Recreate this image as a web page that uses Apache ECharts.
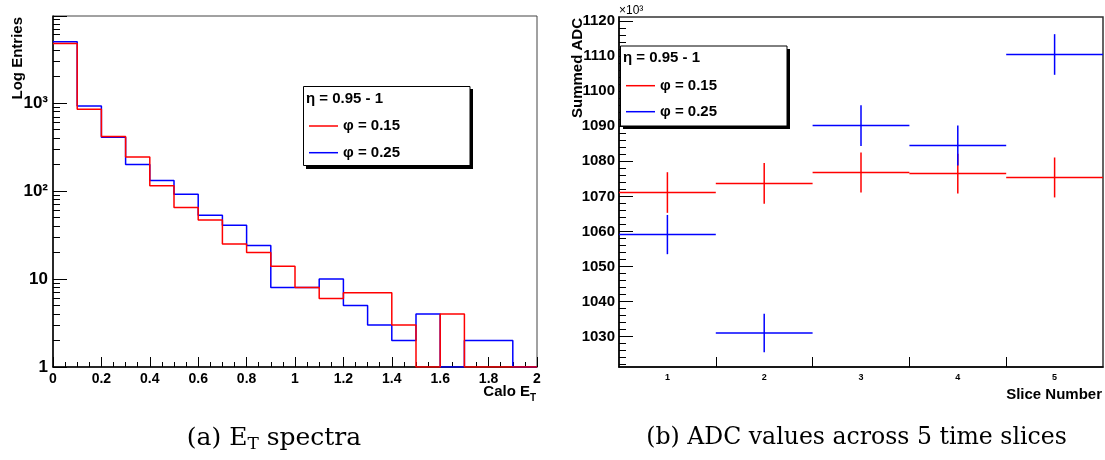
<!DOCTYPE html>
<html><head><meta charset="utf-8">
<script src="https://cdn.jsdelivr.net/npm/echarts@6/dist/echarts.min.js"></script>
<style>html,body{margin:0;padding:0;background:#fff}#c{width:1105px;height:460px}</style>
</head><body><div id="c"></div>
<script>
// ---- data: (a) ET spectra histograms ----
const binEdges = [0,0.1,0.2,0.3,0.4,0.5,0.6,0.7,0.8,0.9,1.0,1.1,1.2,1.3,1.4,1.5,1.6,1.7,1.8,1.9,2.0];
const histPhi015 = [4760, 855, 418, 245, 115, 65, 47, 25, 20, 14, 8, 6, 7, 7, 3, 0, 4, 0, 0, 0];
const histPhi025 = [4980, 930, 411, 201, 132, 92, 53, 41, 24, 8, 8, 10, 5, 3, 2, 4, 0, 2, 2, 0];
const logTickValues = [1, 10, 100, 1000];
const logTickLabels = ['1', '10', '10²', '10³'];

// ---- data: (b) ADC values per slice (x10^3) ----
const slices = [1, 2, 3, 4, 5];
const sliceHalfWidth = 0.5;
const adcPhi015 = [1071.1, 1073.7, 1076.8, 1076.5, 1075.4];
const errPhi015 = [5.8, 5.8, 5.7, 5.7, 5.7];
const adcPhi025 = [1059.1, 1031.0, 1090.2, 1084.5, 1110.5];
const errPhi025 = [5.6, 5.5, 5.8, 5.7, 5.8];
const adcTickValues = [1030, 1040, 1050, 1060, 1070, 1080, 1090, 1100, 1110, 1120];
const sliceTickValues = [1.5, 2.5, 3.5, 4.5];

const seriesNames = ['φ = 0.15', 'φ = 0.25'];
const RED = '#ff0000', BLUE = '#0000ff';
const FONT = 'Liberation Sans, Arial, Helvetica, sans-serif';

const LOG_MIN = 1, LOG_MAX = 9800;
function histData(vals) {
  const d = vals.map((v, i) => [binEdges[i], v > 0 ? v : LOG_MIN]);
  d.push([binEdges[binEdges.length - 1], LOG_MIN]);
  return d;
}
const minorLog = [];
for (let dec = 1; dec <= 1000; dec *= 10) for (let k = 2; k <= 9; k++) minorLog.push(dec * k);
const minorAdc = [];
for (let v = 1022; v <= 1120; v += 2) if (v % 10 !== 0) minorAdc.push(v);

function crossRender(params, api) {
  const x = api.value(0), y = api.value(1), e = api.value(2);
  const c = api.visual('color');
  const l = api.coord([x - sliceHalfWidth, y]), r = api.coord([x + sliceHalfWidth, y]);
  const t = api.coord([x, y + e]), b = api.coord([x, y - e]);
  const st = { stroke: c, lineWidth: 1.5 };
  return { type: 'group', children: [
    { type: 'line', shape: { x1: l[0], y1: l[1], x2: r[0], y2: r[1] }, style: st },
    { type: 'line', shape: { x1: t[0], y1: t[1], x2: b[0], y2: b[1] }, style: st }
  ]};
}

const axisLineS = { show: true, lineStyle: { color: '#000', width: 1.5 } };
const labelS = { color: '#000', fontFamily: FONT, fontWeight: 'bold', fontSize: 14 };

const chart = echarts.init(document.getElementById('c'), null, { renderer: 'canvas' });
const legendText = { fontSize: 15, fontWeight: 'bold', fontFamily: FONT, color: '#000', lineHeight: 16 };

chart.setOption({
  animation: false,
  backgroundColor: '#fff',
  grid: [
    { left: 53, top: 16, width: 484, height: 351, show: true, borderColor: '#444', borderWidth: 1, backgroundColor: 'transparent' },
    { left: 619, top: 17, width: 484, height: 350, show: true, borderColor: '#333', borderWidth: 1.5, backgroundColor: 'transparent' }
  ],
  xAxis: [
    { type: 'value', gridIndex: 0, min: 0, max: 2, interval: 0.2,
      axisLine: axisLineS, splitLine: { show: false },
      axisTick: { inside: true, length: 10, lineStyle: { color: '#000' } },
      minorTick: { show: true, splitNumber: 4, length: 5, lineStyle: { color: '#000' } },
      axisLabel: Object.assign({ margin: 5 }, labelS) },
    { type: 'value', gridIndex: 1, min: 0.5, max: 5.5,
      axisLine: axisLineS, splitLine: { show: false },
      axisTick: { inside: true, length: 10, customValues: sliceTickValues, lineStyle: { color: '#000' } },
      axisLabel: Object.assign({}, labelS, { fontSize: 9, margin: 6, customValues: slices }) }
  ],
  yAxis: [
    { type: 'log', logBase: 10, gridIndex: 0, min: LOG_MIN, max: LOG_MAX, position: 'left',
      axisLine: axisLineS, splitLine: { show: false },
      axisTick: { inside: true, length: 14, lineStyle: { color: '#000' } },
      axisLabel: Object.assign({}, labelS, { margin: 5, fontSize: 17,
        formatter: v => { const i = logTickValues.indexOf(Math.round(v)); return i >= 0 ? logTickLabels[i] : ''; } }) },
    { type: 'log', logBase: 10, gridIndex: 0, min: LOG_MIN, max: LOG_MAX, position: 'left',
      axisLine: { show: false }, splitLine: { show: false }, axisLabel: { show: false },
      axisTick: { inside: true, length: 7, customValues: minorLog, lineStyle: { color: '#000' } } },
    { type: 'value', gridIndex: 1, min: 1021.3, max: 1121.2, position: 'left',
      axisLine: axisLineS, splitLine: { show: false },
      axisTick: { inside: true, length: 14, customValues: adcTickValues, lineStyle: { color: '#000' } },
      axisLabel: Object.assign({}, labelS, { margin: 4, fontSize: 15, customValues: adcTickValues, formatter: v => String(v) }) },
    { type: 'value', gridIndex: 1, min: 1021.3, max: 1121.2, position: 'left',
      axisLine: { show: false }, splitLine: { show: false }, axisLabel: { show: false },
      axisTick: { inside: true, length: 7, customValues: minorAdc, lineStyle: { color: '#000' } } }
  ],
  legend: [
    { data: seriesNames, orient: 'vertical', left: 309, top: 118, padding: 0, itemGap: 10.7,
      itemWidth: 29, itemHeight: 1.5, icon: 'rect', textStyle: legendText, z: 20, selectedMode: false },
    { data: seriesNames, orient: 'vertical', left: 626, top: 77.7, padding: 0, itemGap: 10,
      itemWidth: 29, itemHeight: 1.5, icon: 'rect', textStyle: legendText, z: 20, selectedMode: false }
  ],
  series: [
    { name: seriesNames[1], type: 'line', xAxisIndex: 0, yAxisIndex: 0, step: 'end', symbol: 'none',
      data: histData(histPhi025), color: BLUE, lineStyle: { color: BLUE, width: 1.5 } },
    { name: seriesNames[0], type: 'line', xAxisIndex: 0, yAxisIndex: 0, step: 'end', symbol: 'none',
      data: histData(histPhi015), color: RED, lineStyle: { color: RED, width: 1.5 } },
    { name: seriesNames[0], type: 'custom', xAxisIndex: 1, yAxisIndex: 2, renderItem: crossRender,
      color: RED, itemStyle: { color: RED },
      data: slices.map((s, i) => [s, adcPhi015[i], errPhi015[i]]) },
    { name: seriesNames[1], type: 'custom', xAxisIndex: 1, yAxisIndex: 2, renderItem: crossRender,
      color: BLUE, itemStyle: { color: BLUE },
      data: slices.map((s, i) => [s, adcPhi025[i], errPhi025[i]]) }
  ],
  graphic: [
    // legend box (a)
    { type: 'rect', shape: { x: 306, y: 89, width: 167, height: 80 }, style: { fill: '#000' }, z: 15 },
    { type: 'rect', shape: { x: 303.5, y: 86.5, width: 166.5, height: 79 }, style: { fill: '#fff', stroke: '#000', lineWidth: 1 }, z: 16 },
    { type: 'text', x: 306, y: 98.5, z: 20, style: { text: 'η = 0.95 - 1', fontSize: 15, fontWeight: 'bold', fontFamily: FONT, fill: '#000', verticalAlign: 'middle' } },
    // legend box (b)
    { type: 'rect', shape: { x: 623, y: 49, width: 167, height: 80 }, style: { fill: '#000' }, z: 15 },
    { type: 'rect', shape: { x: 620.5, y: 46, width: 166.5, height: 80 }, style: { fill: '#fff', stroke: '#000', lineWidth: 1 }, z: 16 },
    { type: 'text', x: 623, y: 57.5, z: 20, style: { text: 'η = 0.95 - 1', fontSize: 15, fontWeight: 'bold', fontFamily: FONT, fill: '#000', verticalAlign: 'middle' } },
    // axis titles
    { type: 'text', x: 17.5, y: 17, rotation: Math.PI / 2, z: 20, style: { text: 'Log Entries', fontSize: 15, fontWeight: 'bold', fontFamily: FONT, fill: '#000', align: 'right', verticalAlign: 'middle' } },
    { type: 'text', x: 530, y: 392, z: 20, style: { text: 'Calo E', fontSize: 15, fontWeight: 'bold', fontFamily: FONT, fill: '#000', align: 'right', verticalAlign: 'middle' } },
    { type: 'text', x: 530, y: 398, z: 20, style: { text: 'T', fontSize: 10, fontWeight: 'bold', fontFamily: FONT, fill: '#000', align: 'left', verticalAlign: 'middle' } },
    { type: 'text', x: 577.5, y: 18, rotation: Math.PI / 2, z: 20, style: { text: 'Summed ADC', fontSize: 15, fontWeight: 'bold', fontFamily: FONT, fill: '#000', align: 'right', verticalAlign: 'middle' } },
    { type: 'text', x: 1102, y: 395, z: 20, style: { text: 'Slice Number', fontSize: 15, fontWeight: 'bold', fontFamily: FONT, fill: '#000', align: 'right', verticalAlign: 'middle' } },
    { type: 'text', x: 619, y: 11, z: 20, style: { text: '×10³', fontSize: 12, fontFamily: FONT, fill: '#000', align: 'left', verticalAlign: 'middle' } },
    // captions
    { type: 'text', x: 274, y: 438, z: 20, style: {
        text: '{n|(a) E}{s|T}{n| spectra}', align: 'center', verticalAlign: 'middle',
        rich: { n: { fontSize: 25, fontFamily: 'DejaVu Serif', fill: '#000', lineHeight: 30 },
                s: { fontSize: 17, fontFamily: 'DejaVu Serif', fill: '#000', lineHeight: 17, verticalAlign: 'bottom' } } } },
    { type: 'text', x: 856.5, y: 438, z: 20, style: {
        text: '(b) ADC values across 5 time slices', align: 'center', verticalAlign: 'middle',
        fontSize: 23.6, fontFamily: 'DejaVu Serif', fill: '#000' } }
  ]
});
</script></body></html>
